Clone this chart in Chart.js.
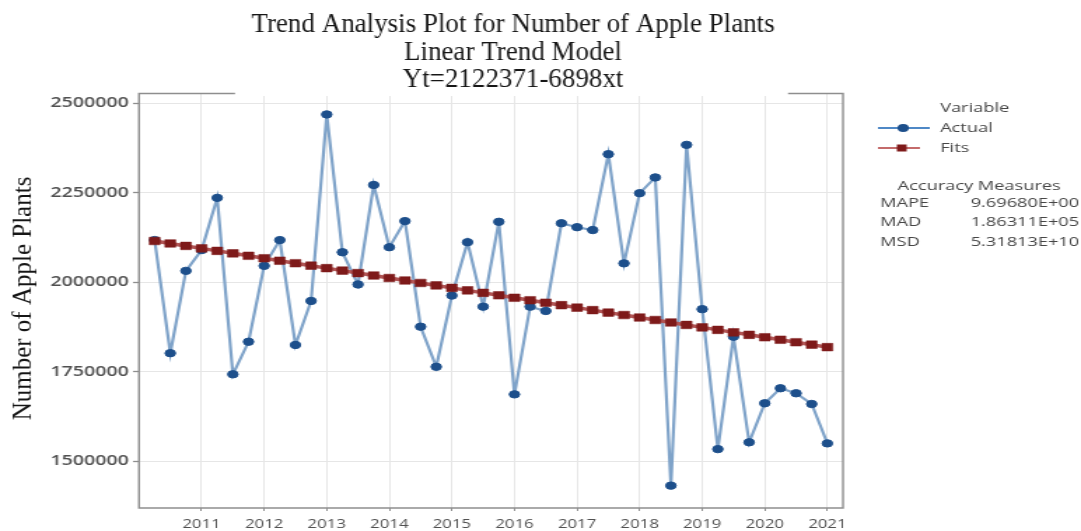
<!DOCTYPE html>
<html>
<head>
<meta charset="utf-8">
<title>Trend Analysis Plot for Number of Apple Plants</title>
<script src="https://cdn.jsdelivr.net/npm/chart.js@4.4.1/dist/chart.umd.min.js"></script>
<style>
  html, body { margin: 0; padding: 0; background: #fff; overflow: hidden; }
  /* The Minitab-style graph is drawn narrow and widened horizontally */
  #frame { position: absolute; left: 0; top: 0; width: 772px; height: 531px;
           transform: scaleX(1.40026); transform-origin: 0 0; }
</style>
</head>
<body>
<div id="frame"><canvas id="chart" width="772" height="531"></canvas></div>
<script>
// Horizontal widening applied to the graph canvas (page width / canvas width)
const STRETCH = 1081 / 772;

// Quarterly apple plant counts, 2010 Q2 .. 2021 Q1 (time index t = 1..44)
const actual = [
  2118000, 1802000, 2032000, 2090000, 2236000, 1743000, 1834000, 2046000,
  2118000, 1825000, 1948000, 2469000, 2084000, 1994000, 2272000, 2098000,
  2171000, 1876000, 1764000, 1963000, 2112000, 1932000, 2169000, 1687000,
  1932000, 1920000, 2165000, 2154000, 2146000, 2358000, 2053000, 2249000,
  2293000, 1432000, 2384000, 1925000, 1534000, 1848000, 1553000, 1662000,
  1704000, 1690000, 1660000, 1550000
];

// Fitted values of the linear trend model Yt = 2122371 - 6898*t
const fits = [
  2115473, 2108575, 2101677, 2094779, 2087881, 2080983, 2074085, 2067187,
  2060289, 2053391, 2046493, 2039595, 2032697, 2025799, 2018901, 2012003,
  2005105, 1998207, 1991309, 1984411, 1977513, 1970615, 1963717, 1956819,
  1949921, 1943023, 1936125, 1929227, 1922329, 1915431, 1908533, 1901635,
  1894737, 1887839, 1880941, 1874043, 1867145, 1860247, 1853349, 1846451,
  1839553, 1832655, 1825757, 1818859
];

// Time index of each observation
const period = actual.map((_, i) => i + 1);

// Year labels and the time index where each one sits
const yearLabels = ['2011', '2012', '2013', '2014', '2015', '2016', '2017', '2018', '2019', '2020', '2021'];
const yearTickPeriods = [4, 8, 12, 16, 20, 24, 28, 32, 36, 40, 44];

// Value axis ticks
const yTickValues = [1500000, 1750000, 2000000, 2250000, 2500000];

// Titles and accuracy table
const titleLines = ['Trend Analysis Plot for Number of Apple Plants', 'Linear Trend Model', 'Yt=2122371-6898xt'];
const yAxisTitle = 'Number of Apple Plants';
const accuracyNames = ['MAPE', 'MAD', 'MSD'];
const accuracyValues = ['9.69680E+00', '1.86311E+05', '5.31813E+10'];

const FRAME_COLOR = '#8e8e8e';
const GRID_COLOR = '#e6e6e6';
const LABEL_COLOR = '#464646';

// Frame, legend, accuracy table and the (un-widened) titles
const decor = {
  id: 'decor',
  afterDraw(chart) {
    const { ctx, chartArea: a } = chart;
    const ds = chart.data.datasets;
    ctx.save();

    // plot frame
    ctx.strokeStyle = FRAME_COLOR;
    ctx.lineWidth = 1.4;
    ctx.beginPath();
    ctx.moveTo(a.left, a.bottom);
    ctx.lineTo(a.left, a.top);
    ctx.lineTo(a.right, a.top);
    ctx.lineTo(a.right, a.bottom);
    ctx.closePath();
    ctx.stroke();

    // legend
    ctx.font = '13px "Open Sans"';
    ctx.fillStyle = LABEL_COLOR;
    ctx.textBaseline = 'middle';
    ctx.textAlign = 'left';
    ctx.fillText('Variable', 671.4, 108);

    ctx.strokeStyle = '#4f88c6';
    ctx.lineWidth = 2;
    ctx.beginPath(); ctx.moveTo(627, 128); ctx.lineTo(664, 128); ctx.stroke();
    ctx.fillStyle = ds[0].pointBackgroundColor;
    ctx.beginPath(); ctx.arc(645, 128, 4, 0, Math.PI * 2); ctx.fill();
    ctx.fillStyle = LABEL_COLOR;
    ctx.fillText(ds[0].label, 671.4, 128);

    ctx.strokeStyle = '#c46b6b';
    ctx.beginPath(); ctx.moveTo(627, 148); ctx.lineTo(657, 148); ctx.stroke();
    ctx.fillStyle = ds[1].pointBackgroundColor;
    ctx.fillRect(640.5, 144.5, 7, 7);
    ctx.fillStyle = LABEL_COLOR;
    ctx.fillText(ds[1].label, 671.4, 148);

    // accuracy measures
    ctx.textAlign = 'center';
    ctx.fillText('Accuracy Measures', 699.3, 186);
    const rows = [203, 222.5, 242];
    accuracyNames.forEach((name, i) => {
      ctx.textAlign = 'left';
      ctx.fillText(name, 628.6, rows[i]);
      ctx.textAlign = 'right';
      ctx.fillText(accuracyValues[i], 770.7, rows[i]);
    });

    // titles are drawn at natural proportions
    ctx.scale(1 / STRETCH, 1);
    ctx.fillStyle = '#fff';
    ctx.fillRect(235, 0, 553, 96);

    ctx.fillStyle = '#161616';
    ctx.font = '27px "Liberation Serif"';
    ctx.textAlign = 'center';
    ctx.textBaseline = 'alphabetic';
    const baselines = [32, 60, 87];
    titleLines.forEach((t, i) => ctx.fillText(t, 513, baselines[i]));

    ctx.font = '25px "Liberation Serif"';
    ctx.translate(24, 298.5);
    ctx.rotate(-Math.PI / 2);
    ctx.textBaseline = 'middle';
    ctx.fillText(yAxisTitle, 0, 0);

    ctx.restore();
  }
};

new Chart(document.getElementById('chart'), {
  type: 'line',
  data: {
    datasets: [
      {
        label: 'Actual',
        data: actual.map((v, i) => ({ x: period[i], y: v })),
        borderColor: '#7fa3c9',
        borderWidth: 2.2,
        pointStyle: 'circle',
        pointRadius: 3.7,
        pointBackgroundColor: '#1d4f8b',
        pointBorderColor: '#1d4f8b',
        pointBorderWidth: 1,
        tension: 0,
        order: 1
      },
      {
        label: 'Fits',
        data: fits.map((v, i) => ({ x: period[i], y: v })),
        borderColor: '#b25656',
        borderWidth: 3.5,
        pointStyle: 'rect',
        pointRadius: 5.4,
        pointBackgroundColor: '#7e1a1a',
        pointBorderColor: '#7e1a1a',
        pointBorderWidth: 0.5,
        tension: 0,
        order: 0
      }
    ]
  },
  options: {
    responsive: false,
    animation: false,
    devicePixelRatio: 1,
    layout: { padding: { top: 93.5, right: 169.97, left: 0, bottom: 0 } },
    plugins: {
      legend: { display: false },
      tooltip: { enabled: false },
      title: { display: false }
    },
    scales: {
      x: {
        type: 'linear',
        min: 0,
        max: 45,
        afterBuildTicks: s => { s.ticks = yearTickPeriods.map(v => ({ value: v })); },
        afterFit: s => { s.height = 23; },
        border: { display: false },
        grid: { color: GRID_COLOR, lineWidth: 1, drawTicks: true, tickLength: 3, tickColor: FRAME_COLOR, tickWidth: 1 },
        ticks: {
          autoSkip: false,
          maxRotation: 0,
          padding: 6,
          color: '#505050',
          font: { family: 'Open Sans', size: 12 },
          callback: (v, i) => yearLabels[i]
        }
      },
      y: {
        type: 'linear',
        min: 1369500,
        max: 2527500,
        afterBuildTicks: s => { s.ticks = yTickValues.map(v => ({ value: v })); },
        afterFit: s => { s.width = 99.27; },
        border: { display: false },
        grid: { color: GRID_COLOR, lineWidth: 1, drawTicks: true, tickLength: 4.3, tickColor: FRAME_COLOR, tickWidth: 1.3 },
        ticks: {
          padding: 3,
          color: '#505050',
          font: { family: 'Open Sans', size: 14, weight: '600' },
          callback: v => String(v)
        }
      }
    }
  },
  plugins: [decor]
});
</script>
</body>
</html>
